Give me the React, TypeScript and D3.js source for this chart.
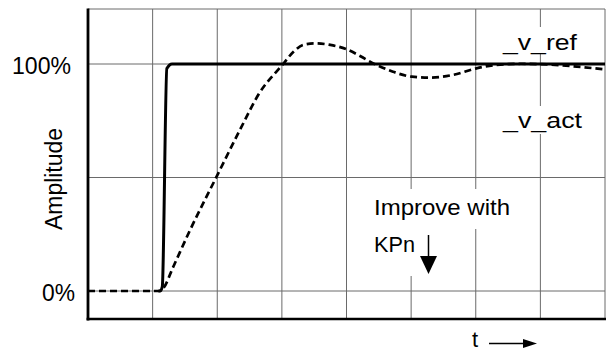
import React from "react";
import * as d3 from "d3";

// ---- data ----
const refT = [1.09, 1.12, 1.15, 1.22, 1.3, 8.0];
const refV = [0, 0, 2, 98, 100, 100];

const actT = [0, 1.1, 1.165, 1.32, 1.58, 1.99, 2.35, 2.65, 3.02, 3.18, 3.33, 3.51, 3.75, 4.0, 4.21, 4.44, 4.72, 5.01, 5.29, 5.65, 6.01, 6.32, 6.7, 7.1, 7.5, 8.0];
const actV = [0, 0, 1.2, 10.7, 26.9, 50.4, 70.9, 87.1, 100, 105.4, 108.4, 109.1, 108.4, 106.5, 103.5, 99.9, 96.6, 94.4, 94.0, 95.2, 98.1, 99.6, 100.1, 99.8, 99.0, 97.6];

const yTickValues = [0, 100];
const yTickLabels = ["0%", "100%"];
const yGridValues = [0, 50, 100];
const xGridValues = [1, 2, 3, 4, 5, 6, 7];

const yAxisTitle = "Amplitude";
const xAxisTitle = "t";
const refLabel = "_v_ref";
const actLabel = "_v_act";
const noteLine1 = "Improve with";
const noteLine2 = "KPn";

// ---- layout ----
const W = 608;
const H = 351;
const L = 88;
const R = 605;
const T = 9;
const B = 319;

const x = d3.scaleLinear().domain([0, 8]).range([L, R]);
const y = d3.scaleLinear().domain([0, 100]).range([291, 64]);

const FONT = "'Liberation Sans', Arial, Helvetica, sans-serif";
const GRID = "#6a6a6a";
const tickWidths = [33, 59];

export default function App() {
  const refPts: [number, number][] = refT.map((t, i) => [x(t), y(refV[i])]);
  const actPts: [number, number][] = actT.map((t, i) => [x(t), y(actV[i])]);
  const gen = d3
    .line<[number, number]>()
    .x((d) => d[0])
    .y((d) => d[1])
    .curve(d3.curveMonotoneX);

  return (
    <svg
      width={W}
      height={H}
      style={{ position: "fixed", left: 0, top: 0, background: "#fff" }}
      fontFamily={FONT}
    >
      <rect x={0} y={0} width={W} height={H} fill="#fff" />
      {/* grid */}
      {xGridValues.map((v) => (
        <line key={"vx" + v} x1={x(v)} x2={x(v)} y1={T} y2={B} stroke={GRID} strokeWidth={1} />
      ))}
      {yGridValues.map((v) => (
        <line key={"hy" + v} x1={L} x2={R} y1={y(v)} y2={y(v)} stroke={GRID} strokeWidth={1} />
      ))}
      <line x1={L} x2={R} y1={T} y2={T} stroke={GRID} strokeWidth={1} />
      <line x1={R} x2={R} y1={T} y2={B} stroke={GRID} strokeWidth={1} />

      {/* label backgrounds (interrupt grid) */}
      <rect x={498} y={27} width={84} height={27} fill="#fff" />
      <rect x={498} y={106} width={89} height={28} fill="#fff" />
      <rect x={368} y={189} width={148} height={40} fill="#fff" />
      <rect x={368} y={229} width={74} height={47} fill="#fff" />

      {/* curves */}
      <path d={gen(actPts) || ""} fill="none" stroke="#000" strokeWidth={2.7} strokeDasharray="7,4" />
      <path d={gen(refPts) || ""} fill="none" stroke="#000" strokeWidth={3} strokeLinejoin="round" />

      {/* axes */}
      <line x1={L} x2={L} y1={T - 0.5} y2={B + 1.5} stroke="#000" strokeWidth={2.8} />
      <line x1={L - 1.4} x2={R + 1} y1={B} y2={B} stroke="#000" strokeWidth={2.6} />

      {/* tick labels */}
      {yTickValues.map((v, i) => (
        <text
          key={"yt" + v}
          x={i === 0 ? 42 : 12}
          y={y(v) + 9.5}
          fontSize={23}
          fill="#000"
          textLength={tickWidths[i]}
          lengthAdjust="spacingAndGlyphs"
        >
          {yTickLabels[i]}
        </text>
      ))}

      {/* axis titles */}
      <text
        transform={`translate(62,179) rotate(-90)`}
        fontSize={23}
        textAnchor="middle"
        fill="#000"
        textLength={102}
        lengthAdjust="spacingAndGlyphs"
      >
        {yAxisTitle}
      </text>
      <text x={472} y={347} fontSize={22} fill="#000">
        {xAxisTitle}
      </text>
      <line x1={489} x2={525} y1={343.5} y2={343.5} stroke="#000" strokeWidth={1.5} />
      <path d="M523,339 L537,343.5 L523,348 Z" fill="#000" />

      {/* series labels */}
      <text x={503} y={50} fontSize={22} fill="#000" textLength={74} lengthAdjust="spacingAndGlyphs">
        {refLabel}
      </text>
      <text x={503} y={128} fontSize={22} fill="#000" textLength={79} lengthAdjust="spacingAndGlyphs">
        {actLabel}
      </text>

      {/* note */}
      <text x={374} y={215} fontSize={21.5} fill="#000" textLength={136} lengthAdjust="spacingAndGlyphs">
        {noteLine1}
      </text>
      <text x={374} y={252} fontSize={22.5} fill="#000" textLength={41} lengthAdjust="spacingAndGlyphs">
        {noteLine2}
      </text>
      <line x1={428.5} x2={428.5} y1={235} y2={258} stroke="#000" strokeWidth={1.5} />
      <path d="M420,256 L437,256 L428.5,274 Z" fill="#000" />
    </svg>
  );
}
